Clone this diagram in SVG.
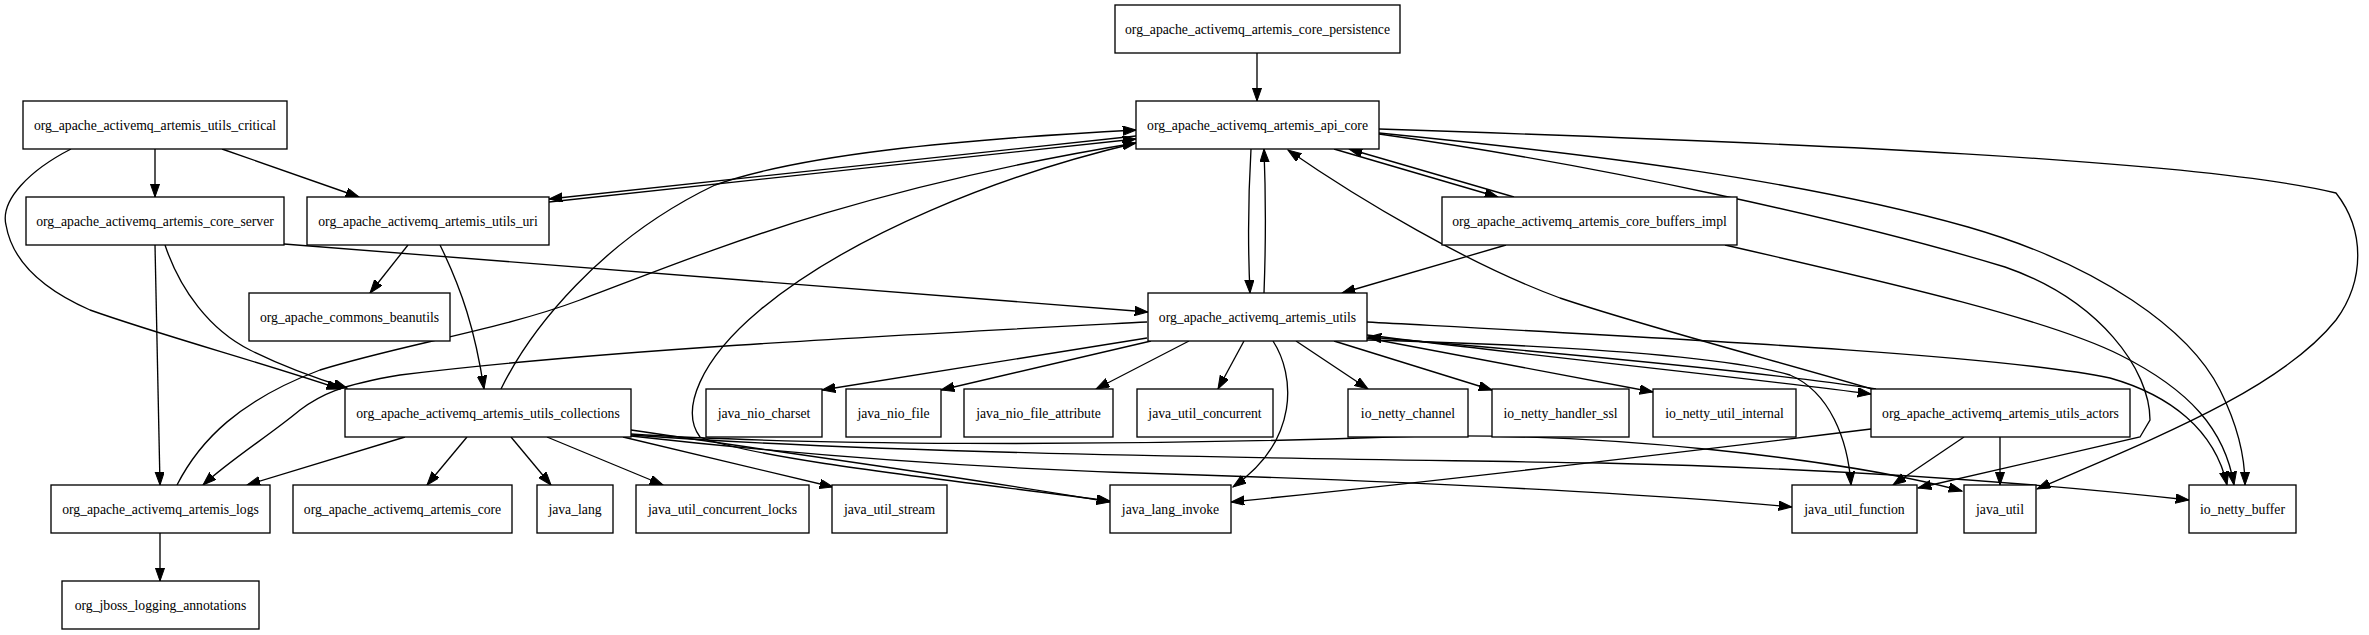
<svg xmlns="http://www.w3.org/2000/svg" width="2369" height="635" viewBox="0 0 2369 635">
<style>
.n rect{fill:#fff;stroke:#000;stroke-width:1.33}
.n text{font-family:"Liberation Serif","Times New Roman",serif;font-size:13.7px;text-anchor:middle;fill:#000}
#edges path{fill:none;stroke:#000;stroke-width:1.33;marker-end:url(#ah)}
</style>
<defs>
<marker id="ah" markerUnits="userSpaceOnUse" markerWidth="14" markerHeight="10" refX="13.3" refY="4.67" orient="auto">
<path d="M0,0 L13.3,4.67 L0,9.33 z" fill="#000" stroke="#000" stroke-width="1"/>
</marker>
</defs>
<rect width="2369" height="635" fill="#fff"/>
<g id="edges">
<path d="M1257,53 L1257,101"/>
<path d="M155,149 L155,197"/>
<path d="M222,149 L359,197"/>
<path d="M71,149 C30,170 0,200 6,225 C12,260 40,288 90,310 C160,335 260,362 340,389"/>
<path d="M155,245 L160,485"/>
<path d="M165,245 C180,290 210,330 250,350 C280,365 315,378 347,388"/>
<path d="M284,244 L1148,312"/>
<path d="M408,245 L370,293"/>
<path d="M440,245 C462,290 475,330 484,389"/>
<path d="M1136,136 L549,199"/>
<path d="M549,202 L1136,139"/>
<path d="M1251,149 C1248,200 1248,250 1250,293"/>
<path d="M1264,293 C1266,240 1266,200 1264,149"/>
<path d="M1334,149 L1498,197"/>
<path d="M1514,197 L1349,149"/>
<path d="M1506,245 L1342,293"/>
<path d="M501,389 C530,330 600,240 715,185 C800,155 950,140 1136,130"/>
<path d="M177,485 C200,440 240,400 320,370 C400,345 500,330 580,300 C700,255 850,190 1136,143"/>
<path d="M1136,143 C1000,175 850,235 760,310 C700,360 680,410 700,437 C760,460 950,480 1110,501"/>
<path d="M160,533 L160,581"/>
<path d="M405,437 L247,485"/>
<path d="M1147,322 C900,335 600,350 400,375 C340,385 320,395 300,410 C270,435 230,460 203,485"/>
<path d="M467,437 L427,485"/>
<path d="M511,437 L551,485"/>
<path d="M547,437 L663,485"/>
<path d="M623,437 L833,487"/>
<path d="M631,430 C800,455 950,475 1110,502"/>
<path d="M631,434 C800,445 1100,447 1390,437 C1600,430 1850,460 1962,491"/>
<path d="M631,435 C900,455 1300,458 1600,463 C1900,470 2100,490 2189,500"/>
<path d="M631,436 C800,455 1000,470 1200,475 C1500,485 1700,498 1792,507"/>
<path d="M1147,338 L822,390"/>
<path d="M1151,341 L941,390"/>
<path d="M1189,341 L1096,389"/>
<path d="M1244,341 L1218,389"/>
<path d="M1273,341 C1295,375 1300,440 1233,487"/>
<path d="M1296,341 L1368,389"/>
<path d="M1334,341 L1492,390"/>
<path d="M1367,338 L1653,392"/>
<path d="M1367,335 C1500,352 1750,378 1871,394"/>
<path d="M1876,389 C1750,370 1500,348 1368,337"/>
<path d="M1367,340 C1550,345 1720,355 1790,375 C1830,392 1848,440 1851,485"/>
<path d="M1367,322 C1700,340 2000,355 2110,378 C2170,395 2215,430 2227,485"/>
<path d="M1872,389 C1780,362 1640,325 1560,298 C1470,265 1360,200 1288,150"/>
<path d="M1871,429 C1700,450 1450,480 1231,502"/>
<path d="M1964,437 L1893,485"/>
<path d="M2000,437 L2000,485"/>
<path d="M1379,129 C1800,143 2200,160 2336,193 C2365,230 2365,280 2336,320 C2280,390 2150,440 2037,489"/>
<path d="M1379,133 C1600,155 1800,180 1968,227 C2100,265 2190,330 2220,390 C2240,430 2245,460 2245,485"/>
<path d="M1379,134 C1600,165 1850,220 2005,267 C2100,300 2150,370 2150,420 L2140,437 L1918,488"/>
<path d="M1725,245 C1900,285 2050,320 2120,355 C2190,390 2225,430 2234,485"/>
</g>
<g id="core_persistence" class="n"><rect x="1115" y="5" width="285" height="48"/><text x="1257.5" y="33.7">org_apache_activemq_artemis_core_persistence</text></g>
<g id="utils_critical" class="n"><rect x="23" y="101" width="264" height="48"/><text x="155" y="129.7">org_apache_activemq_artemis_utils_critical</text></g>
<g id="api_core" class="n"><rect x="1136" y="101" width="243" height="48"/><text x="1257.5" y="129.7">org_apache_activemq_artemis_api_core</text></g>
<g id="core_server" class="n"><rect x="26" y="197" width="258" height="48"/><text x="155" y="225.7">org_apache_activemq_artemis_core_server</text></g>
<g id="utils_uri" class="n"><rect x="307" y="197" width="242" height="48"/><text x="428" y="225.7">org_apache_activemq_artemis_utils_uri</text></g>
<g id="core_buffers_impl" class="n"><rect x="1442" y="197" width="295" height="48"/><text x="1589.5" y="225.7">org_apache_activemq_artemis_core_buffers_impl</text></g>
<g id="commons_beanutils" class="n"><rect x="249" y="293" width="201" height="48"/><text x="349.5" y="321.7">org_apache_commons_beanutils</text></g>
<g id="utils" class="n"><rect x="1148" y="293" width="219" height="48"/><text x="1257.5" y="321.7">org_apache_activemq_artemis_utils</text></g>
<g id="utils_collections" class="n"><rect x="345" y="389" width="286" height="48"/><text x="488" y="417.7">org_apache_activemq_artemis_utils_collections</text></g>
<g id="java_nio_charset" class="n"><rect x="706" y="389" width="116" height="48"/><text x="764" y="417.7">java_nio_charset</text></g>
<g id="java_nio_file" class="n"><rect x="846" y="389" width="95" height="48"/><text x="893.5" y="417.7">java_nio_file</text></g>
<g id="java_nio_file_attribute" class="n"><rect x="964" y="389" width="149" height="48"/><text x="1038.5" y="417.7">java_nio_file_attribute</text></g>
<g id="java_util_concurrent" class="n"><rect x="1137" y="389" width="136" height="48"/><text x="1205" y="417.7">java_util_concurrent</text></g>
<g id="io_netty_channel" class="n"><rect x="1348" y="389" width="120" height="48"/><text x="1408" y="417.7">io_netty_channel</text></g>
<g id="io_netty_handler_ssl" class="n"><rect x="1492" y="389" width="137" height="48"/><text x="1560.5" y="417.7">io_netty_handler_ssl</text></g>
<g id="io_netty_util_internal" class="n"><rect x="1653" y="389" width="143" height="48"/><text x="1724.5" y="417.7">io_netty_util_internal</text></g>
<g id="utils_actors" class="n"><rect x="1871" y="389" width="259" height="48"/><text x="2000.5" y="417.7">org_apache_activemq_artemis_utils_actors</text></g>
<g id="logs" class="n"><rect x="51" y="485" width="219" height="48"/><text x="160.5" y="513.7">org_apache_activemq_artemis_logs</text></g>
<g id="artemis_core" class="n"><rect x="293" y="485" width="219" height="48"/><text x="402.5" y="513.7">org_apache_activemq_artemis_core</text></g>
<g id="java_lang" class="n"><rect x="537" y="485" width="76" height="48"/><text x="575" y="513.7">java_lang</text></g>
<g id="java_util_concurrent_locks" class="n"><rect x="636" y="485" width="173" height="48"/><text x="722.5" y="513.7">java_util_concurrent_locks</text></g>
<g id="java_util_stream" class="n"><rect x="832" y="485" width="115" height="48"/><text x="889.5" y="513.7">java_util_stream</text></g>
<g id="java_lang_invoke" class="n"><rect x="1110" y="485" width="121" height="48"/><text x="1170.5" y="513.7">java_lang_invoke</text></g>
<g id="java_util_function" class="n"><rect x="1792" y="485" width="125" height="48"/><text x="1854.5" y="513.7">java_util_function</text></g>
<g id="java_util" class="n"><rect x="1964" y="485" width="72" height="48"/><text x="2000" y="513.7">java_util</text></g>
<g id="io_netty_buffer" class="n"><rect x="2189" y="485" width="107" height="48"/><text x="2242.5" y="513.7">io_netty_buffer</text></g>
<g id="jboss_logging_annotations" class="n"><rect x="62" y="581" width="197" height="48"/><text x="160.5" y="609.7">org_jboss_logging_annotations</text></g>
</svg>
